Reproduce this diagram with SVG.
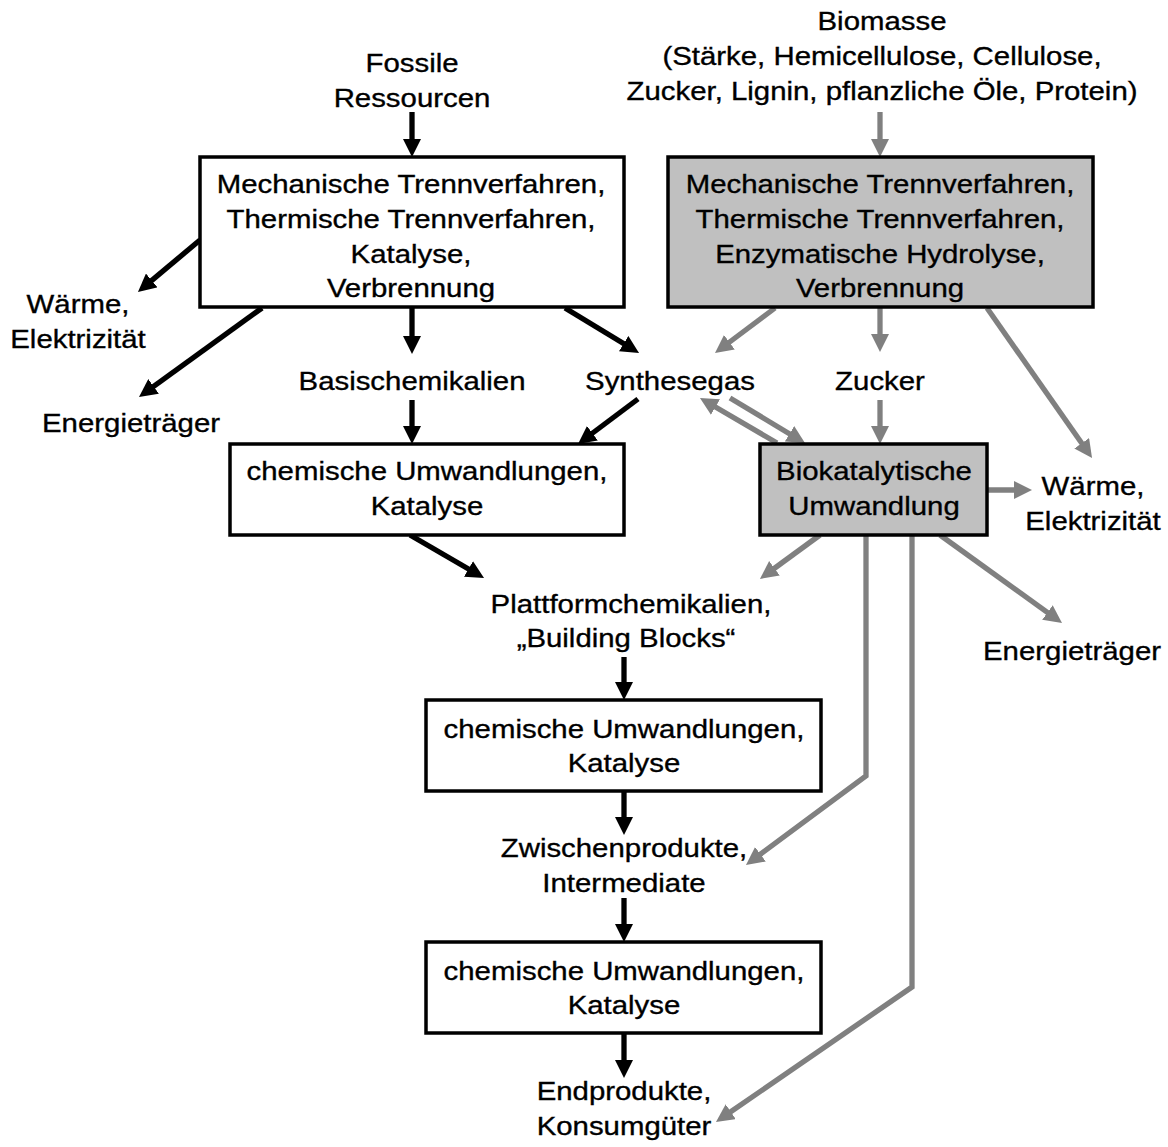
<svg xmlns="http://www.w3.org/2000/svg" width="1168" height="1147" viewBox="0 0 1168 1147">
<style>
text{font-family:"Liberation Sans",Arial,sans-serif;font-size:26px;fill:#000;stroke:#000;stroke-width:0.35;text-anchor:middle}
.box{stroke:#000;stroke-width:3.5}
.w{fill:#fff}
.g{fill:#c0c0c0}
.bk{stroke:#000;stroke-width:5.3;fill:none}
.gr{stroke:#808080;stroke-width:5.3;fill:none}
</style>
<defs>
<marker id="ab" markerUnits="userSpaceOnUse" markerWidth="18" markerHeight="18" refX="8" refY="9" orient="auto"><path d="M0,0 L18,9 L0,18 z" fill="#000"/></marker>
<marker id="ag" markerUnits="userSpaceOnUse" markerWidth="18" markerHeight="18" refX="8" refY="9" orient="auto"><path d="M0,0 L18,9 L0,18 z" fill="#808080"/></marker>
</defs>
<rect width="1168" height="1147" fill="#fff"/>
<g id="connectors">
<line class="bk" x1="412" y1="112" x2="412" y2="147" marker-end="url(#ab)"/>
<line class="bk" x1="200" y1="240" x2="145.6" y2="285.6" marker-end="url(#ab)"/>
<line class="bk" x1="262" y1="308" x2="147.1" y2="391.1" marker-end="url(#ab)"/>
<line class="bk" x1="412" y1="308" x2="412" y2="344" marker-end="url(#ab)"/>
<line class="bk" x1="565" y1="308" x2="630.5" y2="347.8" marker-end="url(#ab)"/>
<line class="bk" x1="412" y1="400" x2="412" y2="434" marker-end="url(#ab)"/>
<line class="bk" x1="638" y1="399" x2="586" y2="438" marker-end="url(#ab)"/>
<line class="bk" x1="410" y1="535" x2="475.4" y2="573" marker-end="url(#ab)"/>
<line class="bk" x1="624" y1="657" x2="624" y2="690" marker-end="url(#ab)"/>
<line class="bk" x1="624" y1="791" x2="624" y2="825" marker-end="url(#ab)"/>
<line class="bk" x1="624" y1="898" x2="624" y2="932" marker-end="url(#ab)"/>
<line class="bk" x1="624" y1="1033" x2="624" y2="1068" marker-end="url(#ab)"/>
<line class="gr" x1="880" y1="112" x2="880" y2="147" marker-end="url(#ag)"/>
<line class="gr" x1="775" y1="308" x2="723" y2="347" marker-end="url(#ag)"/>
<line class="gr" x1="880" y1="308" x2="880" y2="342" marker-end="url(#ag)"/>
<line class="gr" x1="987" y1="308" x2="1086.3" y2="449.8" marker-end="url(#ag)"/>
<line class="gr" x1="880" y1="400" x2="880" y2="434" marker-end="url(#ag)"/>
<line class="gr" x1="777" y1="443" x2="708.6" y2="403" marker-end="url(#ag)"/>
<line class="gr" x1="730" y1="398" x2="796.4" y2="437.9" marker-end="url(#ag)"/>
<line class="gr" x1="987" y1="490" x2="1022" y2="490" marker-end="url(#ag)"/>
<line class="gr" x1="820" y1="535" x2="768" y2="573" marker-end="url(#ag)"/>
<line class="gr" x1="940" y1="535" x2="1053.9" y2="617.2" marker-end="url(#ag)"/>
<polyline class="gr" points="866,535 866,776 754,859" marker-end="url(#ag)"/>
<polyline class="gr" points="912,535 912,987 724.2,1116.3" marker-end="url(#ag)"/>
</g>
<g id="fossil-label" transform="translate(412,0) scale(1.13,1)"><text x="0" y="72">Fossile</text><text x="0" y="107">Ressourcen</text></g>
<g id="fossil-process"><rect class="box w" x="200" y="157" width="424" height="150"/>
<g transform="translate(411,0) scale(1.13,1)"><text x="0" y="193">Mechanische Trennverfahren,</text><text x="0" y="228">Thermische Trennverfahren,</text><text x="0" y="263">Katalyse,</text><text x="0" y="297">Verbrennung</text></g></g>
<g id="waerme-left" transform="translate(78,0) scale(1.13,1)"><text x="0" y="313">Wärme,</text><text x="0" y="348">Elektrizität</text></g>
<g id="energie-left" transform="translate(131,0) scale(1.13,1)"><text x="0" y="432">Energieträger</text></g>
<g id="basischemikalien" transform="translate(412,0) scale(1.13,1)"><text x="0" y="390">Basischemikalien</text></g>
<g id="synthesegas" transform="translate(670,0) scale(1.13,1)"><text x="0" y="390">Synthesegas</text></g>
<g id="chem1"><rect class="box w" x="230" y="444" width="394" height="91"/>
<g transform="translate(427,0) scale(1.13,1)"><text x="0" y="480">chemische Umwandlungen,</text><text x="0" y="515">Katalyse</text></g></g>
<g id="plattform"><text transform="translate(631,0) scale(1.13,1)" x="0" y="613">Plattformchemikalien,</text><text transform="translate(626,0) scale(1.13,1)" x="0" y="647">„Building Blocks“</text></g>
<g id="chem2"><rect class="box w" x="426" y="700" width="395" height="91"/>
<g transform="translate(624,0) scale(1.13,1)"><text x="0" y="738">chemische Umwandlungen,</text><text x="0" y="772">Katalyse</text></g></g>
<g id="zwischen" transform="translate(624,0) scale(1.13,1)"><text x="0" y="857">Zwischenprodukte,</text><text x="0" y="892">Intermediate</text></g>
<g id="chem3"><rect class="box w" x="426" y="942" width="395" height="91"/>
<g transform="translate(624,0) scale(1.13,1)"><text x="0" y="980">chemische Umwandlungen,</text><text x="0" y="1014">Katalyse</text></g></g>
<g id="endprodukte" transform="translate(624,0) scale(1.13,1)"><text x="0" y="1100">Endprodukte,</text><text x="0" y="1135">Konsumgüter</text></g>
<g id="biomasse" transform="translate(882,0) scale(1.13,1)"><text x="0" y="30">Biomasse</text><text x="0" y="65">(Stärke, Hemicellulose, Cellulose,</text><text x="0" y="100">Zucker, Lignin, pflanzliche Öle, Protein)</text></g>
<g id="bio-process"><rect class="box g" x="668" y="157" width="425" height="150"/>
<g transform="translate(880,0) scale(1.13,1)"><text x="0" y="193">Mechanische Trennverfahren,</text><text x="0" y="228">Thermische Trennverfahren,</text><text x="0" y="263">Enzymatische Hydrolyse,</text><text x="0" y="297">Verbrennung</text></g></g>
<g id="zucker" transform="translate(880,0) scale(1.13,1)"><text x="0" y="390">Zucker</text></g>
<g id="biokat"><rect class="box g" x="760" y="444" width="227" height="91"/>
<g transform="translate(874,0) scale(1.13,1)"><text x="0" y="480">Biokatalytische</text><text x="0" y="515">Umwandlung</text></g></g>
<g id="waerme-right" transform="translate(1093,0) scale(1.13,1)"><text x="0" y="495">Wärme,</text><text x="0" y="530">Elektrizität</text></g>
<g id="energie-right" transform="translate(1072,0) scale(1.13,1)"><text x="0" y="660">Energieträger</text></g>
</svg>
